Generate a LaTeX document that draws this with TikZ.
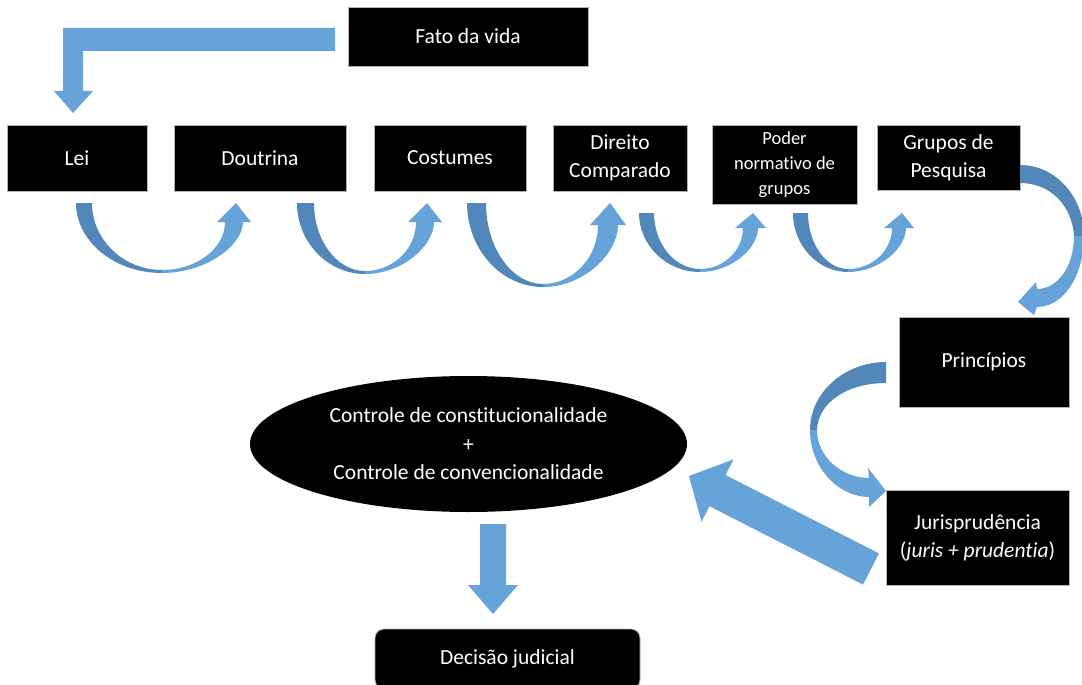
\documentclass[tikz,border=0pt]{standalone}
\usepackage{fontspec}
\setmainfont{Carlito}[Ligatures=NoCommon]
\usetikzlibrary{shapes.geometric}
\definecolor{lightb}{RGB}{101,163,217}
\definecolor{darkb}{RGB}{82,135,186}
\newcommand\bx[6]{\node[blk,minimum width={(#4-#2)*1pt},minimum height={(#5-#3)*1pt}] (#1) at ({(#2+#4)/2},{(#3+#5)/2}) {#6};}
% U-shaped curved arrow: #1 tail outer x, #2 tail inner x, #3 top y, #4 bottom x, #5 bottom y,
% #6 head band inner x, #7 head band outer x, #8 head base y, #9 tip x
\newcommand\uarr[9]{%
  \fill[darkb] (#1,#3) .. controls (#1,{#3+0.55*(#5-#3)}) and ({#4-0.55*(#4-#1)},#5) .. (#4,#5)
    -- (#4,{#5-3}) .. controls ({#4-0.55*(#4-#2)},{#5-3}) and (#2,{#3+0.55*(#5-3-#3)}) .. (#2,#3) -- cycle;
  \fill[lightb] (#4,#5) .. controls ({#4+0.55*(#7-#4)},#5) and (#7,{#5-0.55*(#5-#8)}) .. (#7,#8)
    -- ({#7+8},#8) -- (#9,#3) -- ({#6-8},#8) -- (#6,#8)
    .. controls (#6,{#8+0.55*(#5-3-#8)}) and ({#4+0.55*(#6-#4)},{#5-3}) .. (#4,{#5-3}) -- cycle;
}
\begin{document}
\begin{tikzpicture}[x=1pt,y=-1pt,
  blk/.style={fill=black,draw=gray!60,line width=0.8pt,text=white,align=center,inner sep=0pt,
              font=\fontsize{21.5}{28}\selectfont},
  smallblk/.style={blk,font=\fontsize{18.5}{25}\selectfont}]
\clip (0,0) rectangle (1082,685);
\fill[white] (0,0) rectangle (1082,685);

% boxes
\bx{fato}{348}{7}{588}{66}{Fato da vida}
\bx{lei}{7}{125}{147}{191}{Lei}
\bx{dout}{174}{125}{346}{191}{Doutrina}
\bx{cost}{374}{125}{526}{191}{Costumes}
\bx{dir}{553}{125}{687}{191}{Direito\\Comparado}
\node[smallblk,minimum width=145pt,minimum height=79pt] (pod) at (784.5,164.5) {Poder\\normativo de\\grupos};
\bx{grp}{877}{125}{1020}{190}{Grupos de\\Pesquisa}
\bx{pri}{899}{317}{1069}{407}{Princípios}
\bx{jur}{886}{490}{1069}{585}{Jurisprudência\\(\textit{juris + prudentia})}
\node[ellipse,fill=black,minimum width=437pt,minimum height=136pt,inner sep=0pt,text=white,align=center,
      font=\fontsize{21.5}{28.5}\selectfont] (ctrl) at (468.5,444)
      {Controle de constitucionalidade\\+\\Controle de convencionalidade};
\node[blk,rounded corners=9pt,minimum width=265pt,minimum height=60pt] (dec) at (507.5,659) {Decisão judicial};

% bent arrow Fato da vida -> Lei
\fill[lightb] (335,28) -- (63,28) -- (63,91) -- (54,91) -- (73,113) -- (93,91) -- (83,91)
  -- (83,51) -- (335,51) -- cycle;

% curved arrows along the top row
\uarr{76}{92}{203}{162}{273}{225}{243}{222}{236}
\uarr{297}{314}{203}{365}{274}{416}{434}{222}{427}
\uarr{467}{486}{203}{543}{287}{598}{618}{225}{610}
\uarr{639}{654}{213}{700}{272}{743}{758}{228}{753}
\uarr{793}{808}{213}{848}{272}{892}{906}{228}{902}

% Grupos de Pesquisa -> Principios
\fill[darkb] (1020,165) .. controls (1055,165) and (1084,196) .. (1084,236) -- (1074,236)
  .. controls (1072,205) and (1050,183) .. (1020,183) -- cycle;
\fill[lightb] (1084,236) .. controls (1084,275) and (1064,307) .. (1037,307) -- (1034,315)
  -- (1018,302) -- (1036,282) -- (1037,289) .. controls (1058,289) and (1074,266) .. (1074,236) -- cycle;

% Principios -> Jurisprudencia
\fill[darkb] (886,362) .. controls (844,362) and (810,393) .. (810,430) -- (817,430)
  .. controls (818,402) and (848,383) .. (886,383) -- cycle;
\fill[lightb] (810,430) .. controls (810,467) and (838,497) .. (869,497) -- (869,507)
  -- (886,491) -- (868,468) -- (869,478) .. controls (842,478) and (817,457) .. (817,430) -- cycle;

% Jurisprudencia -> Controle
\fill[lightb] (879,553.4) -- (725.5,475) -- (733.5,459.4) -- (689,476) -- (701.5,521.8)
  -- (709.5,506.2) -- (863,584.6) -- cycle;

% Controle -> Decisao
\fill[lightb] (480,524) -- (506,524) -- (506,585) -- (518,585) -- (493,614) -- (468,585)
  -- (480,585) -- cycle;
\end{tikzpicture}
\end{document}
